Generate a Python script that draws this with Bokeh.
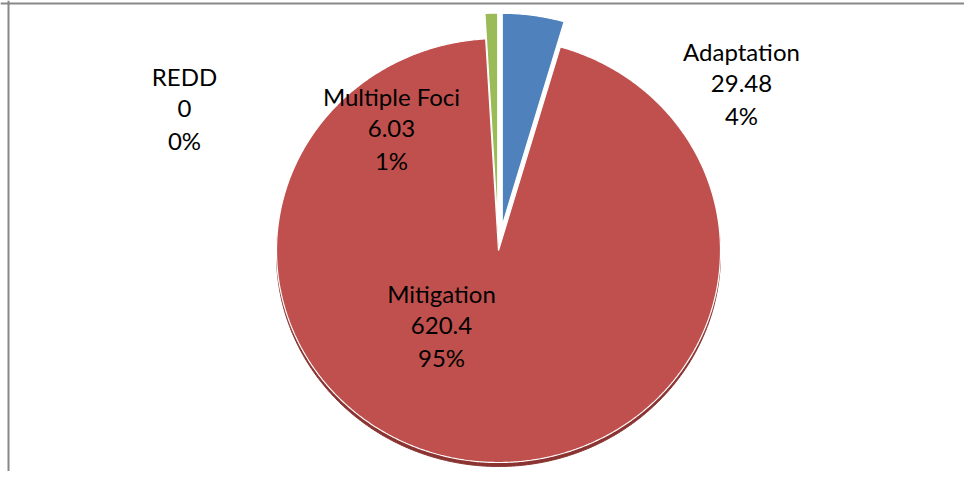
import numpy as np
from bokeh.plotting import figure
from bokeh.models import Range1d, Span, ColumnDataSource
from bokeh.core.properties import value
from bokeh.embed import file_html
from bokeh.resources import INLINE

# ---- data ----
categories = ["Adaptation", "Mitigation", "Multiple Foci", "REDD"]
values = [29.48, 620.4, 6.03, 0]

# ---- style / layout ----
colors = ["#4F81BD", "#C0504D", "#9BBB59", "#8064A2"]
side_color = "#8A3331"
explode = [0.12, 0.0, 0.12, 0.0]
label_pos = [(741, 83), (441, 325), (391, 128), (184, 108)]
LINE_GAP = 32

W, H = 964, 471
CX, CY = 498, 250
RX, RY = 222, 212
DEPTH = 4

p = figure(width=W, height=H, x_range=Range1d(0, W), y_range=Range1d(H, 0),
           output_backend="svg", toolbar_location=None, min_border=0,
           x_axis_location=None, y_axis_location=None)
p.grid.visible = False
p.outline_line_color = None
p.background_fill_color = "white"
p.border_fill_color = "white"

total = float(sum(values))
fracs = [v / total for v in values]
starts = np.cumsum([0] + fracs[:-1]) * 2 * np.pi
ends = np.cumsum(fracs) * 2 * np.pi

xs, ys, cols = [], [], []
side_xs, side_ys = [], []
for i, (a0, a1) in enumerate(zip(starts, ends)):
    if values[i] <= 0:
        continue
    mid = (a0 + a1) / 2
    ox = CX + explode[i] * RX * np.sin(mid)
    oy = CY - explode[i] * RY * np.cos(mid)
    t = np.linspace(a0, a1, max(8, int((a1 - a0) * 120)))
    px = [ox] + list(ox + RX * np.sin(t)) + [ox]
    py = [oy] + list(oy - RY * np.cos(t)) + [oy]
    xs.append(px); ys.append(py); cols.append(colors[i])
    if explode[i] == 0:
        side_xs.append(px); side_ys.append([y + DEPTH for y in py])

p.patches(side_xs, side_ys, fill_color=side_color, line_color=side_color, line_width=1)
src = ColumnDataSource(dict(xs=xs, ys=ys, c=cols))
p.patches("xs", "ys", source=src, fill_color="c", line_color="white", line_width=1.2)

# ---- labels ----
tx, ty, tt = [], [], []
for i, cat in enumerate(categories):
    lx, ly = label_pos[i]
    pct = f"{round(fracs[i] * 100):d}%"
    for k, s in enumerate([cat, f"{values[i]:g}", pct]):
        tx.append(lx); ty.append(ly + (k - 1) * LINE_GAP); tt.append(s)
p.text(x=tx, y=ty, text=tt, text_font=value("Lato"), text_font_size="24px",
       text_align="center", text_baseline="middle", text_color="black")

# ---- chart border (left and top visible) ----
p.add_layout(Span(location=8, dimension="height", line_color="#888888", line_width=2))
p.add_layout(Span(location=3, dimension="width", line_color="#888888", line_width=2))

open("out.html", "w").write(file_html(p, INLINE))
